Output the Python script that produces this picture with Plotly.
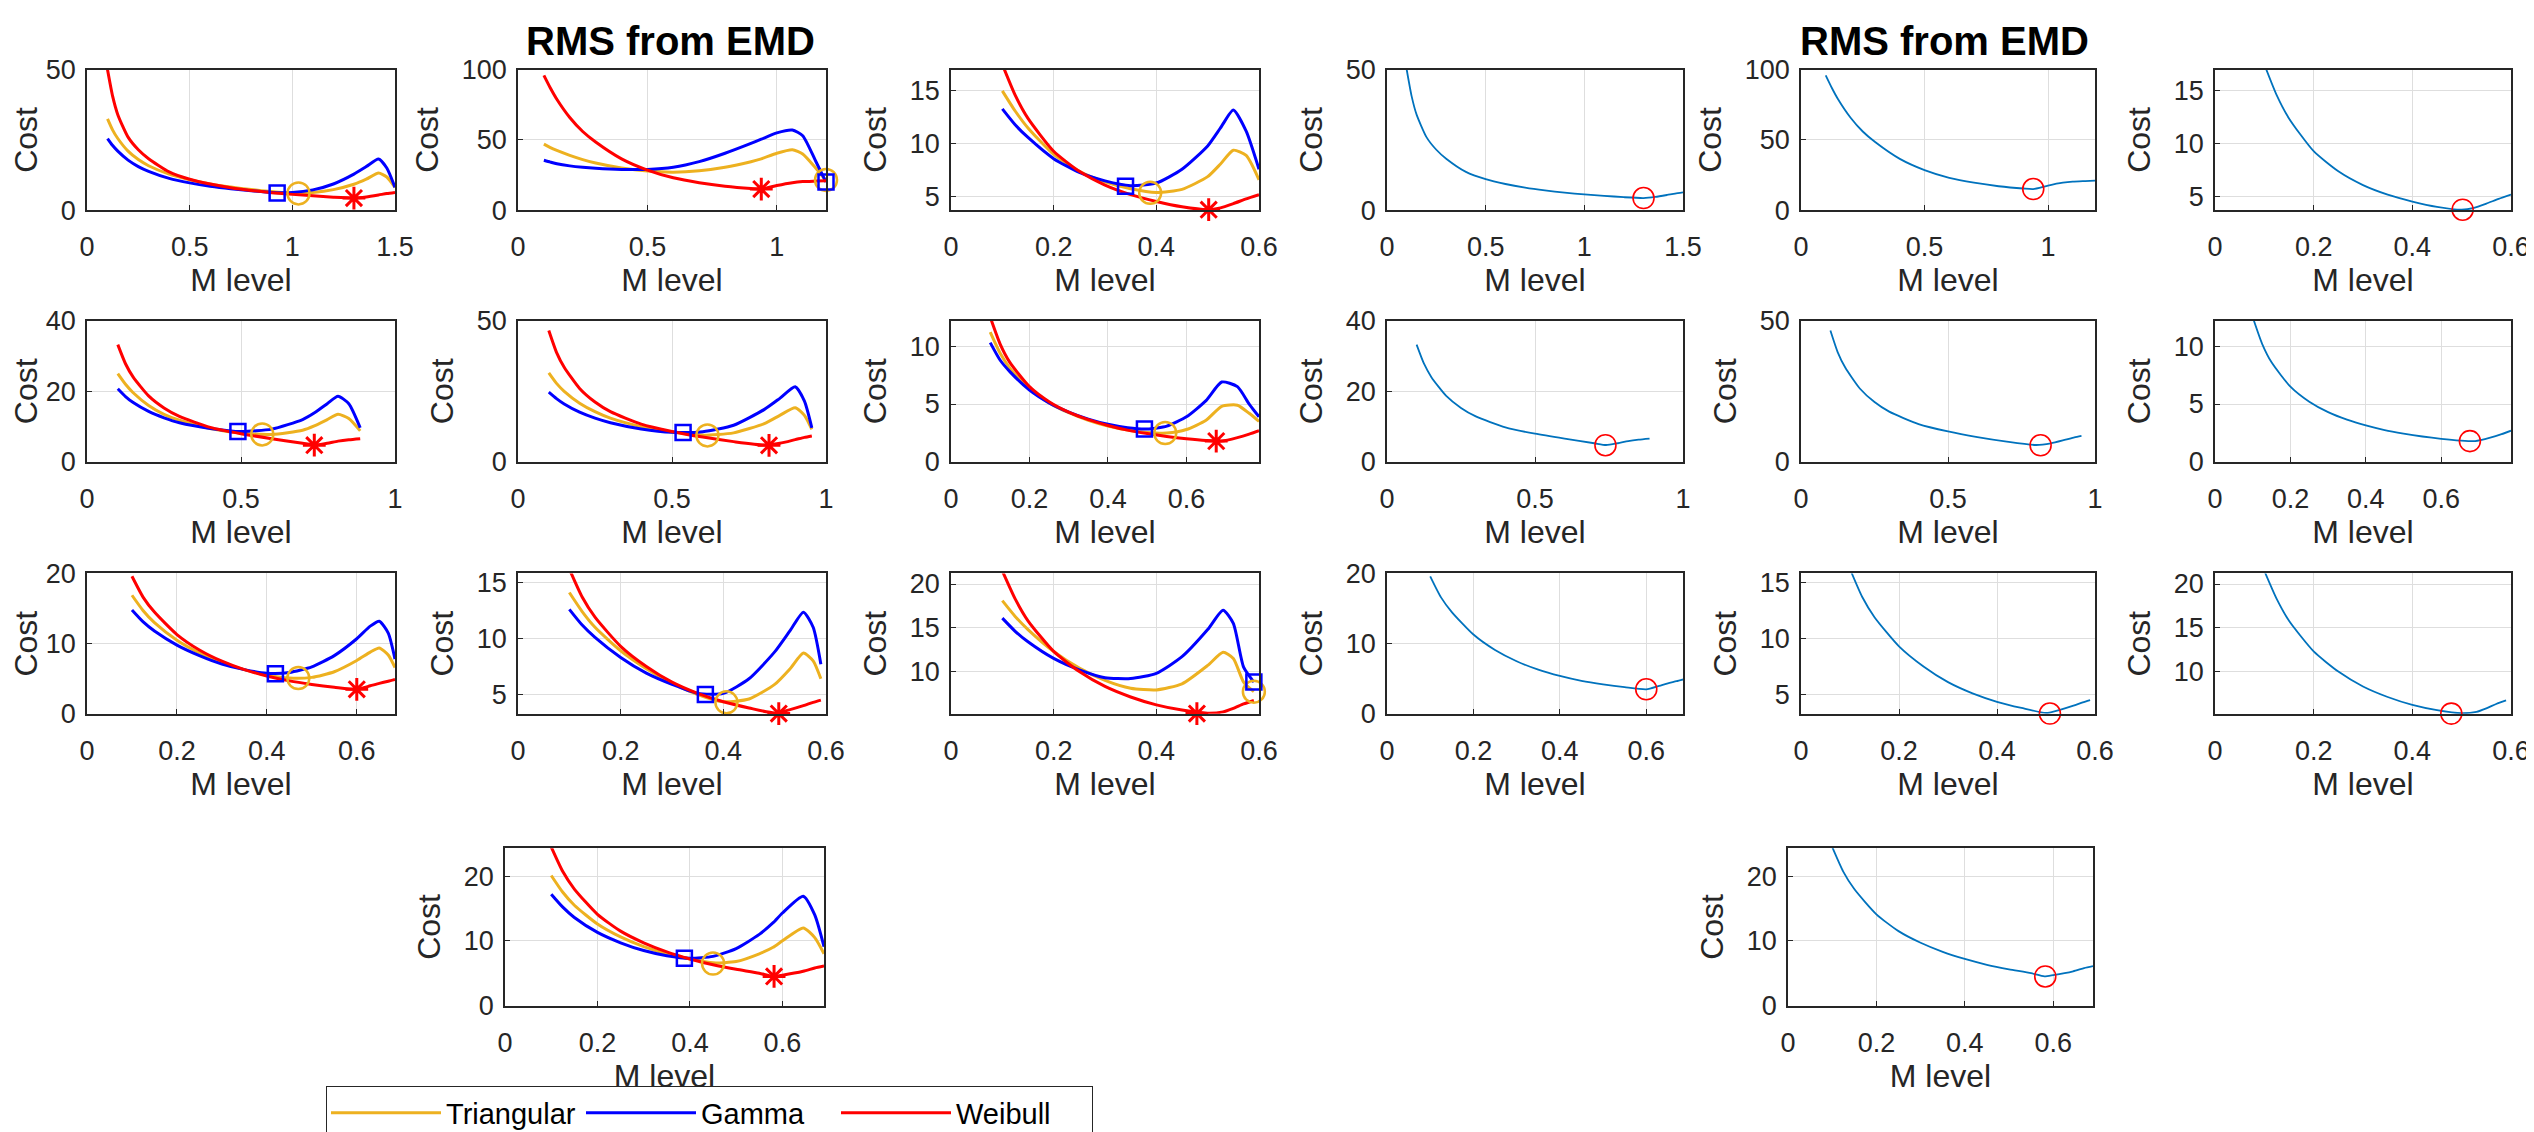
import plotly.graph_objects as go

# ---------------- data ----------------
# Case 1
x_c1 = [0.1, 0.125, 0.15, 0.2, 0.25, 0.3, 0.4, 0.5, 0.6, 0.7, 0.8, 0.9, 1.0, 1.1, 1.2, 1.3, 1.36, 1.42, 1.46, 1.5]
tri_c1 = [32.5, 28.5, 25.5, 21, 18, 15.8, 12.8, 10.8, 9.3, 8.2, 7.3, 6.6, 6.0, 6.3, 7.3, 9.2, 11.0, 13.2, 11.8, 8.1]
gam_c1 = [25.5, 23, 21, 17.8, 15.5, 13.8, 11.3, 9.7, 8.5, 7.6, 6.9, 6.3, 6.3, 7.2, 9.3, 12.8, 15.5, 18.2, 15, 8.1]
wei_c1 = [50, 40.5, 34, 26, 21.5, 18.3, 13.6, 11.0, 9.3, 8.0, 7.0, 6.2, 5.6, 5.1, 4.6, 4.3, 4.7, 5.4, 5.9, 6.3]
# Case 2
x_c2 = [0.1, 0.125, 0.15, 0.2, 0.25, 0.3, 0.4, 0.5, 0.6, 0.7, 0.8, 0.9, 0.94, 1.0, 1.06, 1.1, 1.15, 1.19]
tri_c2 = [47, 44.5, 42.5, 39, 36, 33.5, 30, 27.8, 27, 28, 30.5, 34.5, 36.5, 40.5, 43, 40, 30, 21]
gam_c2 = [35.5, 34.2, 33, 31.5, 30.5, 29.8, 29, 29, 30.5, 34.5, 40.5, 47.5, 50.5, 55, 57, 53, 35, 20]
wei_c2 = [96, 87, 79, 66, 56, 48.5, 36.5, 28.5, 23, 19.5, 17, 15.4, 15, 17.5, 19.5, 20.3, 20.7, 21]
# Case 3
x_c3 = [0.1, 0.125, 0.15, 0.2, 0.25, 0.3, 0.35, 0.4, 0.45, 0.5, 0.525, 0.55, 0.575, 0.6]
tri_c3 = [15.0, 13.1, 11.5, 9.0, 7.4, 6.4, 5.75, 5.4, 5.7, 6.9, 8.1, 9.4, 8.9, 6.6]
gam_c3 = [13.3, 11.8, 10.6, 8.6, 7.3, 6.5, 6.05, 6.3, 7.6, 9.8, 11.5, 13.2, 11.2, 7.6]
wei_c3 = [17.5, 14.6, 12.4, 9.3, 7.4, 6.1, 5.2, 4.55, 4.05, 3.78, 3.95, 4.35, 4.8, 5.2]
# Case 4
x_c4 = [0.1, 0.125, 0.15, 0.2, 0.25, 0.3, 0.4, 0.5, 0.6, 0.7, 0.74, 0.78, 0.815, 0.85, 0.887]
tri_c4 = [25, 22, 19.6, 16, 13.5, 11.8, 9.5, 8.2, 7.8, 9.0, 10.3, 12.0, 13.5, 12.3, 8.8]
gam_c4 = [20.7, 18.5, 16.8, 14.3, 12.5, 11.1, 9.5, 8.6, 9.3, 12.0, 14.0, 16.5, 18.6, 16.5, 9.7]
wei_c4 = [33.2, 27.8, 24, 18.7, 15.3, 12.9, 9.8, 8.0, 6.6, 5.3, 4.8, 5.3, 5.9, 6.3, 6.6]
# Case 5
x_c5 = [0.1, 0.125, 0.15, 0.2, 0.25, 0.3, 0.4, 0.5, 0.6, 0.7, 0.8, 0.85, 0.9, 0.93, 0.954]
tri_c5 = [31.5, 27.8, 25, 20.8, 17.8, 15.5, 12.5, 10.6, 9.5, 10.3, 13.6, 16.5, 19.2, 16.5, 11.5]
gam_c5 = [24.7, 22.4, 20.5, 17.6, 15.5, 13.9, 11.7, 10.5, 10.7, 13.0, 18.6, 22.5, 26.6, 21.5, 12.1]
wei_c5 = [46.5, 38.8, 33.5, 26, 21.2, 17.8, 13.4, 10.8, 8.8, 7.2, 6.0, 6.6, 7.9, 8.7, 9.2]
# Case 6
x_c6 = [0.1, 0.125, 0.15, 0.2, 0.25, 0.3, 0.35, 0.4, 0.45, 0.5, 0.55, 0.6, 0.65, 0.69, 0.73, 0.76, 0.785]
tri_c6 = [11.2, 9.4, 8.1, 6.3, 5.1, 4.25, 3.6, 3.1, 2.75, 2.55, 2.5, 2.8, 3.6, 4.8, 4.9, 4.2, 3.5]
gam_c6 = [10.3, 8.8, 7.8, 6.2, 5.1, 4.3, 3.7, 3.25, 2.95, 2.84, 3.1, 3.9, 5.3, 6.9, 6.5, 5.0, 3.9]
wei_c6 = [12.5, 10.2, 8.6, 6.5, 5.2, 4.3, 3.65, 3.15, 2.75, 2.45, 2.2, 2.0, 1.85, 1.8, 2.1, 2.4, 2.7]
# Case 7
x_c7 = [0.1, 0.125, 0.15, 0.2, 0.25, 0.3, 0.35, 0.4, 0.45, 0.5, 0.55, 0.6, 0.63, 0.65, 0.67, 0.685]
tri_c7 = [16.9, 14.7, 13.0, 10.5, 8.7, 7.3, 6.3, 5.5, 5.1, 5.2, 6.0, 7.6, 8.8, 9.4, 8.4, 6.6]
gam_c7 = [14.8, 13.1, 11.8, 9.8, 8.3, 7.1, 6.3, 5.8, 5.9, 6.7, 8.3, 10.7, 12.5, 13.2, 11.5, 7.8]
wei_c7 = [19.6, 16.6, 14.5, 11.3, 9.1, 7.5, 6.3, 5.4, 4.7, 4.2, 3.8, 3.5, 4.0, 4.35, 4.65, 4.9]
# Case 8
x_c8 = [0.1, 0.125, 0.15, 0.2, 0.25, 0.3, 0.35, 0.4, 0.45, 0.5, 0.53, 0.556, 0.575, 0.59]
tri_c8 = [14.1, 12.4, 11.0, 8.9, 7.3, 6.0, 5.0, 4.35, 4.6, 5.9, 7.3, 8.7, 8.0, 6.4]
gam_c8 = [12.6, 11.2, 10.1, 8.3, 6.9, 5.9, 5.1, 5.1, 6.4, 8.8, 10.7, 12.35, 11.0, 7.7]
wei_c8 = [16.2, 13.7, 11.9, 9.3, 7.5, 6.1, 5.1, 4.35, 3.8, 3.35, 3.65, 4.0, 4.3, 4.5]
# Case 9
x_c9 = [0.1, 0.125, 0.15, 0.2, 0.25, 0.3, 0.35, 0.4, 0.45, 0.5, 0.53, 0.55, 0.57, 0.59]
tri_c9 = [18.1, 16.3, 14.8, 12.3, 10.4, 9.0, 8.1, 7.9, 8.6, 10.7, 12.2, 11.5, 8.8, 7.7]
gam_c9 = [16.1, 14.6, 13.4, 11.5, 10.2, 9.3, 9.2, 9.8, 11.7, 14.8, 17.0, 15.5, 10.5, 8.8]
wei_c9 = [21.5, 18.3, 15.8, 12.3, 10.0, 8.3, 7.1, 6.2, 5.6, 5.25, 5.4, 5.8, 6.3, 6.7]
# Case 10
x_c10 = [0.1, 0.125, 0.15, 0.2, 0.25, 0.3, 0.35, 0.4, 0.45, 0.5, 0.55, 0.58, 0.6, 0.645, 0.67, 0.69]
tri_c10 = [20.1, 17.5, 15.5, 12.6, 10.6, 9.1, 8.0, 7.2, 6.6, 6.8, 8.0, 9.0, 10.0, 12.0, 10.5, 8.0]
gam_c10 = [17.2, 15.2, 13.6, 11.3, 9.7, 8.5, 7.7, 7.3, 7.6, 8.8, 11.0, 12.8, 14.3, 16.9, 14.0, 9.1]
wei_c10 = [24.5, 20.7, 18.0, 14.1, 11.5, 9.7, 8.3, 7.2, 6.3, 5.6, 5.0, 4.5, 4.7, 5.3, 5.8, 6.1]

# minimum markers per case: (x, y)
tri_min = [(1.03, 5.95), (1.19, 21.5), (0.388, 5.37), (0.569, 7.8), (0.615, 9.4),
           (0.546, 2.5), (0.47, 5.1), (0.406, 4.3), (0.59, 7.7), (0.45, 6.5)]
gam_min = [(0.926, 6.1), (1.19, 20), (0.34, 6.0), (0.49, 8.6), (0.536, 10.4),
           (0.493, 2.84), (0.419, 5.7), (0.365, 5.0), (0.59, 8.8), (0.388, 7.3)]
wei_min = [(1.30, 4.3), (0.94, 15), (0.502, 3.78), (0.738, 4.75), (0.815, 5.9),
           (0.676, 1.8), (0.60, 3.5), (0.508, 3.3), (0.479, 5.2), (0.582, 4.5)]

# axis ranges and tick values per case
x_ranges = [[0, 1.5], [0, 1.19], [0, 0.6], [0, 1], [0, 1], [0, 0.785], [0, 0.685], [0, 0.6], [0, 0.6], [0, 0.69]]
y_ranges = [[0, 50], [0, 100], [3.74, 17], [0, 40], [0, 50], [0, 12.2], [0, 20], [3.27, 15.8], [5.17, 21.2], [0, 24.3]]
x_ticks = [[0, 0.5, 1, 1.5], [0, 0.5, 1], [0, 0.2, 0.4, 0.6], [0, 0.5, 1], [0, 0.5, 1],
           [0, 0.2, 0.4, 0.6], [0, 0.2, 0.4, 0.6], [0, 0.2, 0.4, 0.6], [0, 0.2, 0.4, 0.6], [0, 0.2, 0.4, 0.6]]
y_ticks = [[0, 50], [0, 50, 100], [5, 10, 15], [0, 20, 40], [0, 50],
           [0, 5, 10], [0, 10, 20], [5, 10, 15], [10, 15, 20], [0, 10, 20]]

series_names = ["Triangular", "Gamma", "Weibull"]
panel_title = "RMS from EMD"
x_label = "M level"
y_label = "Cost"

xs = [x_c1, x_c2, x_c3, x_c4, x_c5, x_c6, x_c7, x_c8, x_c9, x_c10]
tris = [tri_c1, tri_c2, tri_c3, tri_c4, tri_c5, tri_c6, tri_c7, tri_c8, tri_c9, tri_c10]
gams = [gam_c1, gam_c2, gam_c3, gam_c4, gam_c5, gam_c6, gam_c7, gam_c8, gam_c9, gam_c10]
weis = [wei_c1, wei_c2, wei_c3, wei_c4, wei_c5, wei_c6, wei_c7, wei_c8, wei_c9, wei_c10]

# ---------------- layout geometry ----------------
W, H = 2534, 1132
FONT = "Liberation Sans, Arial, Helvetica, sans-serif"
C_TRI, C_GAM, C_WEI, C_ONE = "#EDB120", "#0000FF", "#FF0000", "#0072BD"

cols_L = [(79, 387), (510, 818), (943, 1251)]
cols_R = [(1379, 1675), (1793, 2087), (2207, 2503)]
rows = [(62, 203), (314, 456), (568, 709)]
bottom_row = (844, 1002)
bottom_L = (497, 816)
bottom_R = (1780, 2085)
title_cx = [662, 1936]

panels = []  # (group, case, xpx, ypx)
for grp, cols, bot in (("L", cols_L, bottom_L), ("R", cols_R, bottom_R)):
    for r in range(3):
        for c in range(3):
            panels.append((grp, 3 * r + c, cols[c], rows[r]))
    panels.append((grp, 9, bot, bottom_row))

fig = go.Figure()
layout = dict(width=W, height=H, margin=dict(l=0, r=0, t=0, b=0),
              paper_bgcolor="white", plot_bgcolor="white",
              font=dict(family=FONT, color="#262626"))


def dom_x(px):
    return [px[0] / W, px[1] / W]


def dom_y(py):
    return [1 - py[1] / H, 1 - py[0] / H]


first_legend = True
for k, (grp, ci, xpx, ypx) in enumerate(panels, start=1):
    xa = "x" if k == 1 else f"x{k}"
    ya = "y" if k == 1 else f"y{k}"
    common = dict(showline=True, mirror=True, linecolor="#262626", linewidth=1.5,
                  showgrid=True, gridcolor="#dedede", gridwidth=1.2, zeroline=False,
                  ticks="inside", ticklen=5, tickcolor="#262626", tickwidth=1.2,
                  tickfont=dict(family=FONT, size=27, color="#262626"),
                  automargin=False, fixedrange=True)
    layout["xaxis" if k == 1 else f"xaxis{k}"] = dict(
        common, domain=dom_x(xpx), anchor=ya, range=x_ranges[ci], tickvals=x_ticks[ci],
        ticklabelstandoff=12,
        title=dict(text=x_label, font=dict(family=FONT, size=32, color="#262626"), standoff=0))
    layout["yaxis" if k == 1 else f"yaxis{k}"] = dict(
        common, domain=dom_y(ypx), anchor=xa, range=y_ranges[ci], tickvals=y_ticks[ci],
        ticklabelstandoff=4,
        title=dict(text=y_label, font=dict(family=FONT, size=32, color="#262626"), standoff=14))

    if grp == "L":
        for name, ys, col in ((series_names[0], tris[ci], C_TRI),
                              (series_names[1], gams[ci], C_GAM),
                              (series_names[2], weis[ci], C_WEI)):
            fig.add_trace(go.Scatter(x=xs[ci], y=ys, mode="lines", name=name,
                                     line=dict(color=col, width=3, shape="spline", smoothing=0.6),
                                     legendgroup=name, showlegend=first_legend,
                                     xaxis=xa, yaxis=ya, hoverinfo="skip"))
        first_legend = False
        fig.add_trace(go.Scatter(x=[tri_min[ci][0]], y=[tri_min[ci][1]], mode="markers",
                                 marker=dict(symbol="circle-open", size=22, color=C_TRI,
                                             line=dict(width=2.5, color=C_TRI)),
                                 showlegend=False, cliponaxis=False, xaxis=xa, yaxis=ya))
        fig.add_trace(go.Scatter(x=[gam_min[ci][0]], y=[gam_min[ci][1]], mode="markers",
                                 marker=dict(symbol="square-open", size=15, color=C_GAM,
                                             line=dict(width=2.5, color=C_GAM)),
                                 showlegend=False, cliponaxis=False, xaxis=xa, yaxis=ya))
        fig.add_trace(go.Scatter(x=[wei_min[ci][0]], y=[wei_min[ci][1]], mode="markers",
                                 marker=dict(symbol="asterisk-open", size=19, color=C_WEI,
                                             line=dict(width=3, color=C_WEI)),
                                 showlegend=False, cliponaxis=False, xaxis=xa, yaxis=ya))
    else:
        fig.add_trace(go.Scatter(x=xs[ci], y=weis[ci], mode="lines",
                                 line=dict(color=C_ONE, width=1.8, shape="spline", smoothing=0.6),
                                 showlegend=False, xaxis=xa, yaxis=ya, hoverinfo="skip"))
        fig.add_trace(go.Scatter(x=[wei_min[ci][0]], y=[wei_min[ci][1]], mode="markers",
                                 marker=dict(symbol="circle-open", size=21, color=C_WEI,
                                             line=dict(width=1.6, color=C_WEI)),
                                 showlegend=False, cliponaxis=False, xaxis=xa, yaxis=ya))

layout["annotations"] = [
    dict(text=f"<b>{panel_title}</b>", x=cx / W, y=1 - 33 / H,
         xref="paper", yref="paper", xanchor="center", yanchor="middle", showarrow=False,
         font=dict(family=FONT, size=40, color="#000000"))
    for cx in title_cx
]
layout["legend"] = dict(orientation="h", x=318 / W, y=1 - 1083 / H, xanchor="left", yanchor="top",
                        bordercolor="#262626", borderwidth=1.3, bgcolor="white",
                        font=dict(family=FONT, size=29, color="#000000"),
                        itemwidth=110, tracegroupgap=0, entrywidth=130, entrywidthmode="pixels")
fig.update_layout(**layout)
fig.write_html("out.html")
